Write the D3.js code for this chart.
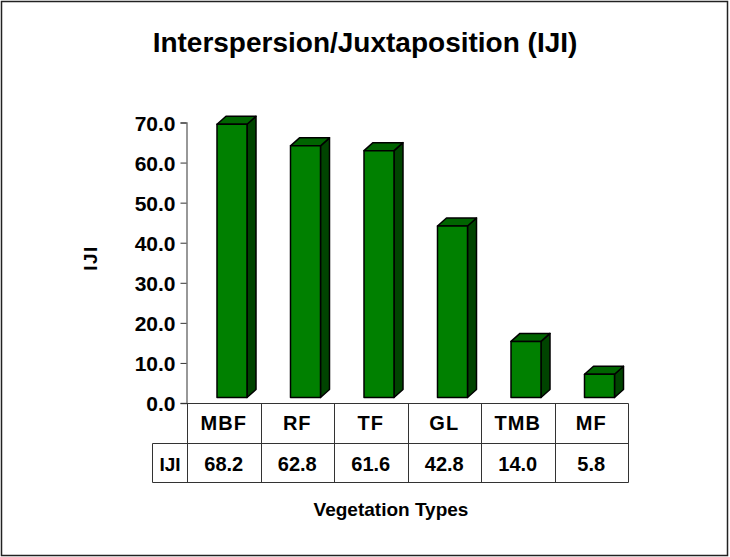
<!DOCTYPE html>
<html>
<head>
<meta charset="utf-8">
<script src="https://cdn.jsdelivr.net/npm/d3@7"></script>
<style>
  body { margin: 0; background: #fff; }
  text { font-family: "Liberation Sans", Arial, sans-serif; font-weight: bold; fill: #000; }
</style>
</head>
<body>
<div id="chart"></div>
<script>
const categories = ['MBF', 'RF', 'TF', 'GL', 'TMB', 'MF'];
const ijiValues = [68.2, 62.8, 61.6, 42.8, 14.0, 5.8];
const yTickValues = [0, 10, 20, 30, 40, 50, 60, 70];
const seriesName = 'IJI';

const width = 730;
const height = 557;

const svg = d3.select('#chart')
  .append('svg')
  .attr('width', width)
  .attr('height', height);

// outer frame
svg.append('rect')
  .attr('x', 1.5).attr('y', 1.5)
  .attr('width', 726).attr('height', 554)
  .attr('fill', '#fff')
  .attr('stroke', '#222')
  .attr('stroke-width', 1.5);

svg.append('text')
  .attr('x', 365).attr('y', 51.5)
  .attr('text-anchor', 'middle')
  .style('font-size', '28px')
  .text('Interspersion/Juxtaposition (IJI)');

const xScale = d3.scaleBand()
  .domain(categories)
  .range([187, 628]);

const yScale = d3.scaleLinear()
  .domain([0, 70])
  .range([403, 122.5]);

// 3d bars
const depthX = 9, depthY = 8, floorShift = 5.5;
const barOffset = 30, barWidth = 30;

const bars = svg.append('g')
  .selectAll('g')
  .data(categories.map((c, i) => ({ cat: c, value: ijiValues[i] })))
  .enter()
  .append('g')
  .attr('stroke', '#000')
  .attr('stroke-width', 1.5)
  .attr('stroke-linejoin', 'round');

bars.append('polygon')
  .attr('fill', '#004400')
  .attr('points', d => {
    const x1 = xScale(d.cat) + barOffset + barWidth;
    const yt = yScale(d.value) - floorShift, yb = yScale(0) - floorShift;
    return [[x1, yt], [x1 + depthX, yt - depthY], [x1 + depthX, yb - depthY], [x1, yb]].join(' ');
  });

bars.append('polygon')
  .attr('fill', '#006400')
  .attr('points', d => {
    const x0 = xScale(d.cat) + barOffset, x1 = x0 + barWidth;
    const yt = yScale(d.value) - floorShift;
    return [[x0, yt], [x0 + depthX, yt - depthY], [x1 + depthX, yt - depthY], [x1, yt]].join(' ');
  });

bars.append('rect')
  .attr('fill', '#008000')
  .attr('x', d => xScale(d.cat) + barOffset)
  .attr('y', d => yScale(d.value) - floorShift)
  .attr('width', barWidth)
  .attr('height', d => yScale(0) - yScale(d.value));

// y axis
const yAxis = d3.axisLeft(yScale)
  .tickValues(yTickValues)
  .tickSize(6)
  .tickPadding(5)
  .tickFormat(d3.format('.1f'));

const yAxisG = svg.append('g')
  .attr('transform', 'translate(186.5,0)')
  .call(yAxis);
yAxisG.select('.domain').attr('stroke', '#777').attr('stroke-width', 1.5);
yAxisG.selectAll('.tick line').attr('stroke', '#333');
yAxisG.selectAll('.tick text')
  .style('font-size', '21px')
  .attr('font-family', null)
  .attr('dy', '0.36em');

svg.append('text')
  .attr('transform', 'translate(97,258) rotate(-90)')
  .attr('text-anchor', 'middle')
  .style('font-size', '19px')
  .style('letter-spacing', '1.5px')
  .text(seriesName);

// data table
const table = svg.append('g')
  .attr('stroke', '#333')
  .attr('stroke-width', 1);
const rowTop = 403.5, rowMid = 443.5, rowBot = 482.5;
const tableRight = xScale.range()[1];

table.append('line').attr('x1', 181).attr('x2', tableRight + 0.5).attr('y1', rowTop).attr('y2', rowTop);
table.append('line').attr('x1', 152.5).attr('x2', tableRight + 0.5).attr('y1', rowMid).attr('y2', rowMid);
table.append('line').attr('x1', 152.5).attr('x2', tableRight + 0.5).attr('y1', rowBot).attr('y2', rowBot);
table.append('line').attr('x1', 152.5).attr('x2', 152.5).attr('y1', rowMid).attr('y2', rowBot);

table.selectAll('.col')
  .data(categories.concat(['end']))
  .enter()
  .append('line')
  .attr('x1', (d, i) => Math.round(i < categories.length ? xScale(d) : tableRight) + 0.5)
  .attr('x2', (d, i) => Math.round(i < categories.length ? xScale(d) : tableRight) + 0.5)
  .attr('y1', rowTop)
  .attr('y2', rowBot);

svg.append('g')
  .selectAll('text')
  .data(categories)
  .enter()
  .append('text')
  .attr('x', d => xScale(d) + xScale.bandwidth() / 2)
  .attr('y', 430)
  .attr('text-anchor', 'middle')
  .style('font-size', '20px')
  .style('letter-spacing', '1px')
  .text(d => d);

svg.append('g')
  .selectAll('text')
  .data(ijiValues)
  .enter()
  .append('text')
  .attr('x', (d, i) => xScale(categories[i]) + xScale.bandwidth() / 2)
  .attr('y', 471)
  .attr('text-anchor', 'middle')
  .style('font-size', '20px')
  .text(d => d3.format('.1f')(d));

svg.append('text')
  .attr('x', 170).attr('y', 471)
  .attr('text-anchor', 'middle')
  .style('font-size', '19px')
  .text(seriesName);

svg.append('text')
  .attr('x', 391).attr('y', 516)
  .attr('text-anchor', 'middle')
  .style('font-size', '19px')
  .text('Vegetation Types');
</script>
</body>
</html>
